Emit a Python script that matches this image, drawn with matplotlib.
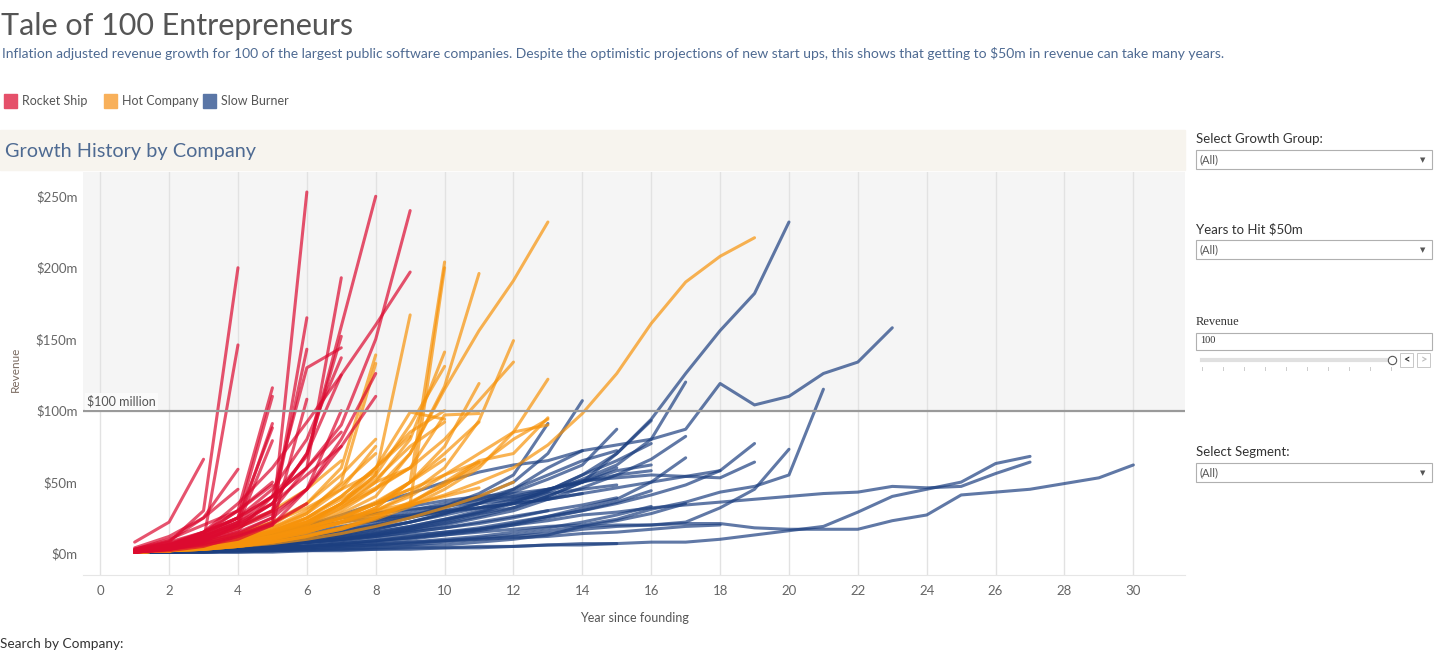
import matplotlib.pyplot as plt
from matplotlib.patches import Rectangle

plt.rcParams['font.family'] = ['Lato', 'DejaVu Sans']

W, H = 1434, 669

year_ticks = list(range(0, 31, 2))
rev_ticks = [0, 50, 100, 150, 200, 250]
rev_labels = ['$0m', '$50m', '$100m', '$150m', '$200m', '$250m']

groups = ['Rocket Ship', 'Hot Company', 'Slow Burner']
legend_colors = ['#e5506a', '#f8b05a', '#5a76a6']
line_colors = ['#dc0a30', '#f7930a', '#1c3f80']

# revenue ($m) per year since founding, each company starts at year 1
rocket_ship = [
    [1, 3, 7, 12, 22, 253],
    [2, 8, 30, 200],
    [1, 4, 9, 146],
    [2, 5, 12, 22, 40, 68, 159, 250],
    [3, 8, 15, 25, 40, 60, 90, 150, 240],
    [2, 5, 15, 35, 60, 92, 125, 160, 197],
    [1, 4, 10, 18, 30, 60, 193],
    [1, 3, 8, 14, 25, 165],
    [2, 6, 12, 20, 30, 143],
    [1, 5, 12, 22, 35, 70, 152],
    [1, 4, 9, 16, 40, 130, 144],
    [2, 6, 14, 25, 45, 80, 137],
    [1, 3, 8, 20, 35, 70, 125],
    [2, 5, 10, 18, 28, 45, 80, 126],
    [1, 4, 9, 15, 25, 45, 75, 110],
    [1, 5, 14, 30, 116],
    [2, 6, 12, 25, 110],
    [8, 22, 66],
    [3, 9, 25, 59],
    [1, 4, 12, 22, 91],
    [2, 7, 15, 25, 88],
    [1, 5, 10, 20, 79],
    [2, 6, 14, 25, 40, 60, 85],
    [1, 3, 6, 10, 20, 45, 100],
    [3, 10, 20, 30, 50],
    [1, 2, 5, 12, 20, 108],
    [4, 12, 25, 45],
    [1, 6, 15, 30, 48],
    [2, 5, 10, 20, 35, 55, 75],
    [1, 3, 7, 13, 21, 35],
]

hot_company = [
    [1, 3, 5, 8, 12, 16, 21, 27, 34, 41, 50, 60, 76, 98, 126, 161, 190, 208, 221],
    [1, 2, 4, 7, 12, 18, 28, 40, 70, 115, 156, 191, 232],
    [1, 2, 4, 6, 10, 15, 22, 32, 50, 204],
    [1, 3, 5, 8, 12, 18, 25, 30, 35, 200],
    [1, 2, 5, 9, 14, 20, 30, 45, 70, 117, 196],
    [1, 3, 6, 10, 15, 22, 35, 55, 167],
    [1, 2, 4, 7, 11, 16, 22, 30, 42, 60, 93, 149],
    [1, 3, 6, 10, 16, 24, 34, 46, 60, 80, 107, 134],
    [1, 2, 3, 5, 8, 12, 17, 24, 33, 45, 60, 85, 122],
    [1, 3, 6, 12, 20, 35, 60, 139],
    [1, 2, 5, 9, 16, 28, 50, 133],
    [1, 2, 4, 7, 12, 20, 32, 50, 80, 141],
    [1, 3, 5, 9, 14, 22, 35, 55, 90, 131],
    [1, 2, 4, 6, 10, 15, 22, 32, 50, 75, 119],
    [1, 2, 3, 5, 8, 12, 17, 25, 35, 50, 65, 70, 95],
    [1, 2, 4, 7, 11, 16, 24, 35, 50, 70, 92],
    [1, 3, 6, 10, 15, 22, 32, 45, 60, 97, 98],
    [1, 2, 4, 7, 11, 17, 25, 35, 45, 55, 64],
    [1, 3, 6, 10, 16, 25, 40, 60, 85, 100],
    [1, 2, 4, 7, 12, 20, 35, 60, 82],
    [1, 2, 5, 10, 18, 30, 48, 70],
    [1, 3, 6, 11, 18, 28, 45, 75],
    [1, 2, 4, 8, 14, 22, 35, 50, 60],
    [2, 5, 10, 18, 30, 45, 65],
    [1, 3, 7, 13, 22, 35, 55, 80],
    [1, 2, 5, 9, 15, 25, 38, 52, 75, 92],
    [1, 2, 3, 5, 8, 12, 18, 26, 36, 48, 62, 80, 94],
    [1, 2, 4, 6, 9, 13, 18, 25, 35, 48, 64],
    [1, 3, 5, 8, 12, 18, 25, 35, 45],
    [1, 2, 4, 7, 12, 18, 26, 36, 50, 66],
    [1, 2, 3, 6, 10, 15, 22, 30, 40, 55, 70, 85, 90],
    [1, 3, 6, 10, 15, 25, 40, 60, 99, 94],
    [1, 4, 8, 14, 22, 32, 45, 57],
    [1, 2, 4, 7, 11, 16, 22, 28, 34, 40, 46],
    [1, 2, 3, 5, 7, 10, 14, 19, 25, 32, 40, 50],
]

slow_burner = [
    [1, 2, 3, 4, 6, 8, 11, 15, 19, 24, 28, 32, 40, 50, 70, 94, 126, 156, 182, 232],
    [1, 2, 5, 9, 14, 20, 27, 35, 42, 50, 57, 62, 65, 72, 76, 80, 87, 119, 104, 110, 126, 134, 158],
    [1, 1, 2, 3, 4, 5, 7, 9, 11, 13, 15, 17, 19, 20, 24, 31, 36, 43, 47, 55, 115],
    [1, 1, 2, 3, 4, 5, 7, 9, 12, 15, 18, 22, 26, 30, 35, 41, 48, 58, 77],
    [1, 2, 3, 5, 7, 10, 14, 18, 22, 27, 32, 38, 45, 51, 53, 55, 54, 53, 64],
    [1, 1, 1, 2, 2, 3, 4, 5, 6, 8, 10, 12, 14, 17, 19, 20, 22, 32, 45, 73],
    [1, 1, 1, 1, 1, 2, 2, 3, 3, 4, 4, 5, 6, 7, 7, 8, 8, 10, 13, 16, 19, 29, 40, 45, 50, 63, 68],
    [1, 1, 1, 2, 2, 3, 3, 4, 5, 6, 8, 10, 13, 19, 20, 20, 21, 21, 18, 17, 17, 17, 23, 27, 41, 43, 45, 49, 53, 62],
    [1, 2, 3, 4, 5, 7, 9, 11, 13, 15, 17, 20, 23, 27, 29, 32, 34, 36, 38, 40, 42, 43, 47, 46, 47, 56, 64],
    [1, 2, 3, 4, 6, 8, 10, 13, 16, 20, 25, 30, 38, 46, 55, 66, 82],
    [1, 1, 2, 3, 4, 5, 7, 9, 11, 14, 17, 21, 26, 32, 38, 50, 67],
    [1, 2, 3, 5, 7, 9, 12, 15, 19, 24, 30, 36, 44, 55, 65, 77],
    [1, 2, 3, 5, 7, 10, 13, 17, 22, 28, 35, 43, 52, 62, 87],
    [1, 2, 4, 6, 9, 12, 16, 20, 25, 32, 40, 50, 70, 107],
    [1, 2, 3, 5, 8, 11, 15, 20, 26, 33, 42, 55, 91],
    [1, 2, 3, 5, 7, 10, 13, 17, 22, 28, 35, 45, 60, 72],
    [1, 2, 3, 4, 6, 8, 10, 13, 17, 22, 28, 35, 43, 52, 62, 80, 120],
    [1, 2, 3, 4, 6, 8, 11, 14, 18, 23, 29, 36, 44, 55, 70, 93],
    [1, 2, 3, 4, 6, 8, 10, 13, 17, 21, 26, 32, 40, 50, 60],
    [1, 1, 2, 3, 4, 5, 6, 8, 10, 13, 16, 20, 25, 30, 36, 44],
    [1, 2, 3, 4, 5, 7, 9, 12, 15, 18, 22, 26, 30, 34, 39],
    [1, 1, 1, 2, 3, 4, 5, 6, 8, 10, 12, 15, 18, 22, 27, 33],
    [1, 2, 3, 4, 6, 8, 10, 12, 15, 18, 21, 25, 30],
    [1, 1, 2, 2, 3, 4, 5, 6, 7, 9, 11, 13, 16, 19, 23, 28, 35],
    [1, 2, 4, 6, 9, 13, 18, 24, 30, 35, 38, 40, 42, 45, 48],
    [1, 2, 4, 7, 11, 16, 22, 28, 33, 37, 40, 42, 45, 50, 58, 62],
    [1, 2, 3, 5, 8, 12, 17, 22, 28, 33, 38, 45, 55, 65, 72],
    [1, 2, 2, 3, 4, 5, 6, 7, 8, 9, 10, 11, 12, 14, 15, 17, 19, 20],
    [1, 1, 1, 1, 2, 2, 3, 3, 4, 4, 5, 5, 6, 6, 7],
    [1, 2, 3, 5, 7, 10, 14, 19, 25, 30, 35, 38, 40],
    [1, 3, 6, 10, 15, 20, 25, 28, 31, 33, 36, 40, 45, 50, 55, 58],
    [1, 3, 6, 10, 14, 18, 22, 25, 27, 30, 32, 35, 38, 42],
    [1, 2, 4, 7, 11, 15, 19, 23, 26, 29, 32, 35, 38, 42, 46, 50, 54, 58],
]

filters = ['Select Growth Group:', 'Years to Hit $50m', 'Select Segment:']
filter_y = [139, 229, 452]


def fx(x):
    return x / W


def fy(y):
    return 1 - y / H


fig = plt.figure(figsize=(W / 100, H / 100), dpi=100)

# titles
fig.text(fx(1), fy(26), 'Tale of 100 Entrepreneurs', fontsize=22, color='#555555', va='center')
fig.text(fx(2), fy(53), 'Inflation adjusted revenue growth for 100 of the largest public software companies. '
         'Despite the optimistic projections of new start ups, this shows that getting to $50m in revenue '
         'can take many years.', fontsize=10, color='#4e6a92', va='center')

# legend
legend_x = [4, 104, 203]
for gx, name, c in zip(legend_x, groups, legend_colors):
    fig.add_artist(Rectangle((fx(gx), fy(108)), 13 / W, 14 / H, color=c, transform=fig.transFigure))
    fig.text(fx(gx + 18), fy(101), name, fontsize=9, color='#555555', va='center')

# sheet header
fig.add_artist(Rectangle((0, fy(170)), fx(1185), 40 / H, color='#f7f4ee', transform=fig.transFigure, zorder=0))
fig.text(fx(5), fy(151), 'Growth History by Company', fontsize=14.3, color='#4e6a92', va='center')

ax = fig.add_axes([fx(83), fy(575), fx(1185) - fx(83), (575 - 172) / H])
ax.set_xlim(-0.5, 31.5)
ax.set_ylim(-15, 267)
ax.axhspan(100, 267, color='#f5f5f5', zorder=0, lw=0)

for series_list, c in zip([slow_burner, hot_company, rocket_ship], line_colors[::-1]):
    for vals in series_list:
        ax.plot(range(1, len(vals) + 1), vals, color=c, alpha=0.7, lw=2.2,
                solid_capstyle='round', solid_joinstyle='round', zorder=3)

ax.axhline(100, color='#9a9a9a', lw=1.6, zorder=4)
ax.text(-0.38, 102, '$100 million', fontsize=9, color='#555555', va='bottom', zorder=5,
        bbox=dict(facecolor='#fafafa', edgecolor='none', pad=1.5))

ax.set_xticks(year_ticks)
ax.set_yticks(rev_ticks)
ax.set_yticklabels(rev_labels)
ax.tick_params(length=0, labelsize=9.5, labelcolor='#666666')
ax.tick_params(axis='y', pad=4)
ax.tick_params(axis='x', pad=7)
ax.grid(axis='x', color='#e2e2e2', lw=1)
ax.set_axisbelow(True)
for s in ['top', 'right', 'left']:
    ax.spines[s].set_visible(False)
ax.spines['bottom'].set_color('#e6e6e6')

ax.set_xlabel('Year since founding', fontsize=9, color='#555555')
ax.xaxis.set_label_coords(0.5, -0.092)
ax.set_ylabel('Revenue', fontsize=8.5, color='#7a6a60')
ax.yaxis.set_label_coords(-0.056, 0.51)

fig.text(fx(0), fy(644), 'Search by Company:', fontsize=9.8, color='#333333', va='center')

# filter panel
for label, ly in zip(filters, filter_y):
    fig.text(fx(1196), fy(ly), label, fontsize=9.5, color='#333333', va='center')
    fig.add_artist(Rectangle((fx(1196), fy(ly + 30)), fx(1432) - fx(1196), 19 / H, facecolor='white',
                             edgecolor='#b0b0b0', lw=0.8, transform=fig.transFigure))
    fig.text(fx(1200), fy(ly + 21), '(All)', fontsize=8, color='#555555', va='center')
    fig.text(fx(1423), fy(ly + 21), '\u25bc', fontsize=5, color='#555555', va='center', ha='center',
             family='DejaVu Sans')

fig.text(fx(1196), fy(322), 'Revenue', fontsize=9, color='#333333', va='center', family='Liberation Serif')
fig.add_artist(Rectangle((fx(1196), fy(350)), fx(1432) - fx(1196), 17 / H, facecolor='white',
                         edgecolor='#b0b0b0', lw=0.8, transform=fig.transFigure))
fig.text(fx(1200), fy(341), '100', fontsize=7.5, color='#333333', va='center', family='Liberation Serif')
fig.add_artist(plt.Line2D([fx(1202), fx(1390)], [fy(360), fy(360)], color='#e0e0e0', lw=3,
                          transform=fig.transFigure))
for tx in range(1202, 1392, 21):
    fig.add_artist(plt.Line2D([fx(tx), fx(tx)], [fy(367), fy(370)], color='#cccccc', lw=0.7,
                              transform=fig.transFigure))
fig.add_artist(plt.Line2D([fx(1392)], [fy(360)], marker='o', ms=6, mfc='white', mec='#555555', mew=0.8,
                          transform=fig.transFigure))
for bx, ch, cc in [(1400, '<', '#333333'), (1417, '>', '#bbbbbb')]:
    fig.add_artist(Rectangle((fx(bx), fy(367)), 13 / W, 14 / H, facecolor='white', edgecolor='#c8c8c8',
                             lw=0.7, transform=fig.transFigure))
    fig.text(fx(bx + 6.5), fy(360), ch, fontsize=8, color=cc, va='center', ha='center', weight='bold')

plt.savefig('out.png', dpi=100)
